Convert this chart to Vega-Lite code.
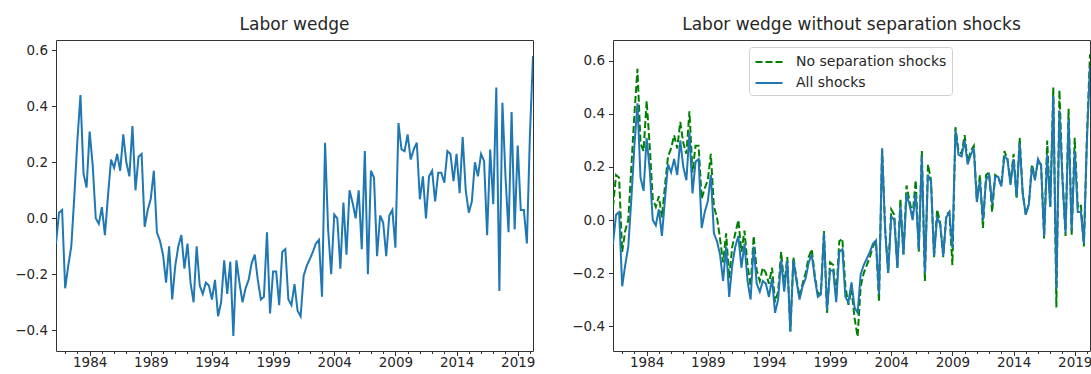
{
 "$schema": "https://vega.github.io/schema/vega-lite/v6.json",
 "padding": {"left": 14, "top": 15, "right": 0, "bottom": 0},
 "background": "white",
 "config": {
  "font": "DejaVu Sans",
  "view": {"stroke": "#333333", "strokeWidth": 1},
  "axis": {"grid": false, "domain": false, "labelFont": "DejaVu Sans", "labelFontSize": 13.5, "labelColor": "#262626", "tickColor": "#333333", "tickWidth": 1},
  "title": {"font": "DejaVu Sans", "fontSize": 17, "fontWeight": "normal", "color": "#262626", "offset": 6},
  "concat": {"spacing": 35}
 },
 "datasets": {
  "w": [
   {"t":1981.25,"a":-0.09,"n":0.05},{"t":1981.5,"a":0.02,"n":0.17},{"t":1981.75,"a":0.03,"n":0.16},{"t":1982,"a":-0.25,"n":-0.12},
   {"t":1982.25,"a":-0.17,"n":-0.04},{"t":1982.5,"a":-0.10,"n":0.00},{"t":1982.75,"a":0.08,"n":0.20},{"t":1983,"a":0.28,"n":0.40},
   {"t":1983.25,"a":0.44,"n":0.57},{"t":1983.5,"a":0.16,"n":0.29},{"t":1983.75,"a":0.11,"n":0.26},{"t":1984,"a":0.31,"n":0.45},
   {"t":1984.25,"a":0.19,"n":0.28},{"t":1984.5,"a":0.00,"n":0.08},{"t":1984.75,"a":-0.02,"n":0.05},{"t":1985,"a":0.04,"n":0.09},
   {"t":1985.25,"a":-0.06,"n":0.01},{"t":1985.5,"a":0.08,"n":0.13},{"t":1985.75,"a":0.21,"n":0.24},{"t":1986,"a":0.18,"n":0.27},
   {"t":1986.25,"a":0.23,"n":0.32},{"t":1986.5,"a":0.17,"n":0.27},{"t":1986.75,"a":0.30,"n":0.37},{"t":1987,"a":0.20,"n":0.29},
   {"t":1987.25,"a":0.15,"n":0.25},{"t":1987.5,"a":0.33,"n":0.41},{"t":1987.75,"a":0.10,"n":0.18},{"t":1988,"a":0.22,"n":0.28},
   {"t":1988.25,"a":0.23,"n":0.28},{"t":1988.5,"a":-0.03,"n":0.08},{"t":1988.75,"a":0.03,"n":0.12},{"t":1989,"a":0.07,"n":0.15},
   {"t":1989.25,"a":0.17,"n":0.25},{"t":1989.5,"a":-0.05,"n":0.05},{"t":1989.75,"a":-0.08,"n":0.01},{"t":1990,"a":-0.13,"n":-0.07},
   {"t":1990.25,"a":-0.23,"n":-0.16},{"t":1990.5,"a":-0.10,"n":-0.05},{"t":1990.75,"a":-0.29,"n":-0.22},{"t":1991,"a":-0.17,"n":-0.10},
   {"t":1991.25,"a":-0.10,"n":-0.05},{"t":1991.5,"a":-0.06,"n":0.00},{"t":1991.75,"a":-0.18,"n":-0.12},{"t":1992,"a":-0.09,"n":-0.04},
   {"t":1992.25,"a":-0.23,"n":-0.17},{"t":1992.5,"a":-0.30,"n":-0.25},{"t":1992.75,"a":-0.10,"n":-0.06},{"t":1993,"a":-0.24,"n":-0.19},
   {"t":1993.25,"a":-0.27,"n":-0.23},{"t":1993.5,"a":-0.23,"n":-0.18},{"t":1993.75,"a":-0.24,"n":-0.20},{"t":1994,"a":-0.29,"n":-0.24},
   {"t":1994.25,"a":-0.22,"n":-0.18},{"t":1994.5,"a":-0.35,"n":-0.31},{"t":1994.75,"a":-0.30,"n":-0.27},{"t":1995,"a":-0.15,"n":-0.12},
   {"t":1995.25,"a":-0.27,"n":-0.25},{"t":1995.5,"a":-0.155,"n":-0.14},{"t":1995.75,"a":-0.42,"n":-0.42},{"t":1996,"a":-0.15,"n":-0.14},
   {"t":1996.25,"a":-0.23,"n":-0.22},{"t":1996.5,"a":-0.30,"n":-0.29},{"t":1996.75,"a":-0.25,"n":-0.24},{"t":1997,"a":-0.22,"n":-0.20},
   {"t":1997.25,"a":-0.16,"n":-0.14},{"t":1997.5,"a":-0.13,"n":-0.11},{"t":1997.75,"a":-0.22,"n":-0.21},{"t":1998,"a":-0.29,"n":-0.28},
   {"t":1998.25,"a":-0.28,"n":-0.27},{"t":1998.5,"a":-0.05,"n":-0.04},{"t":1998.75,"a":-0.34,"n":-0.35},{"t":1999,"a":-0.19,"n":-0.16},
   {"t":1999.25,"a":-0.19,"n":-0.17},{"t":1999.5,"a":-0.31,"n":-0.29},{"t":1999.75,"a":-0.12,"n":-0.08},{"t":2000,"a":-0.11,"n":-0.07},
   {"t":2000.25,"a":-0.29,"n":-0.25},{"t":2000.5,"a":-0.31,"n":-0.32},{"t":2000.75,"a":-0.235,"n":-0.26},{"t":2001,"a":-0.33,"n":-0.37},
   {"t":2001.25,"a":-0.35,"n":-0.44},{"t":2001.5,"a":-0.205,"n":-0.25},{"t":2001.75,"a":-0.17,"n":-0.20},{"t":2002,"a":-0.146,"n":-0.17},
   {"t":2002.25,"a":-0.12,"n":-0.14},{"t":2002.5,"a":-0.09,"n":-0.10},{"t":2002.75,"a":-0.077,"n":-0.08},{"t":2003,"a":-0.28,"n":-0.31},
   {"t":2003.25,"a":0.27,"n":0.27},{"t":2003.5,"a":-0.04,"n":-0.03},{"t":2003.75,"a":-0.20,"n":-0.20},{"t":2004,"a":0.014,"n":0.04},
   {"t":2004.25,"a":0.0,"n":0.02},{"t":2004.5,"a":-0.18,"n":-0.18},{"t":2004.75,"a":0.056,"n":0.08},{"t":2005,"a":-0.13,"n":-0.13},
   {"t":2005.25,"a":0.10,"n":0.13},{"t":2005.5,"a":0.056,"n":0.07},{"t":2005.75,"a":0.0,"n":0.02},{"t":2006,"a":0.10,"n":0.15},
   {"t":2006.25,"a":-0.11,"n":-0.12},{"t":2006.5,"a":0.24,"n":0.26},{"t":2006.75,"a":-0.20,"n":-0.23},{"t":2007,"a":0.17,"n":0.21},
   {"t":2007.25,"a":0.145,"n":0.15},{"t":2007.5,"a":-0.135,"n":-0.14},{"t":2007.75,"a":0.01,"n":0.04},{"t":2008,"a":-0.015,"n":-0.01},
   {"t":2008.25,"a":-0.135,"n":-0.14},{"t":2008.5,"a":0.01,"n":0.02},{"t":2008.75,"a":0.03,"n":0.03},{"t":2009,"a":-0.105,"n":-0.17},
   {"t":2009.25,"a":0.34,"n":0.35},{"t":2009.5,"a":0.246,"n":0.26},{"t":2009.75,"a":0.24,"n":0.25},{"t":2010,"a":0.30,"n":0.32},
   {"t":2010.25,"a":0.21,"n":0.22},{"t":2010.5,"a":0.246,"n":0.26},{"t":2010.75,"a":0.27,"n":0.28},{"t":2011,"a":0.068,"n":0.07},
   {"t":2011.25,"a":0.15,"n":0.17},{"t":2011.5,"a":0.0,"n":-0.03},{"t":2011.75,"a":0.15,"n":0.17},{"t":2012,"a":0.17,"n":0.18},
   {"t":2012.25,"a":0.06,"n":0.03},{"t":2012.5,"a":0.163,"n":0.17},{"t":2012.75,"a":0.163,"n":0.16},{"t":2013,"a":0.127,"n":0.13},
   {"t":2013.25,"a":0.24,"n":0.26},{"t":2013.5,"a":0.23,"n":0.23},{"t":2013.75,"a":0.133,"n":0.14},{"t":2014,"a":0.23,"n":0.25},
   {"t":2014.25,"a":0.09,"n":0.08},{"t":2014.5,"a":0.29,"n":0.31},{"t":2014.75,"a":0.10,"n":0.10},{"t":2015,"a":0.02,"n":0.02},
   {"t":2015.25,"a":0.06,"n":0.06},{"t":2015.5,"a":0.20,"n":0.21},{"t":2015.75,"a":0.15,"n":0.16},{"t":2016,"a":0.23,"n":0.22},
   {"t":2016.25,"a":0.205,"n":0.21},{"t":2016.5,"a":-0.06,"n":-0.07},{"t":2016.75,"a":0.246,"n":0.30},{"t":2017,"a":0.05,"n":0.05},
   {"t":2017.25,"a":0.467,"n":0.50},{"t":2017.5,"a":-0.26,"n":-0.33},{"t":2017.75,"a":0.413,"n":0.49},{"t":2018,"a":0.15,"n":0.16},
   {"t":2018.25,"a":-0.05,"n":-0.06},{"t":2018.5,"a":0.38,"n":0.42},{"t":2018.75,"a":-0.04,"n":-0.06},{"t":2019,"a":0.26,"n":0.31},
   {"t":2019.25,"a":0.03,"n":0.05},{"t":2019.5,"a":0.03,"n":0.06},{"t":2019.75,"a":-0.09,"n":-0.10},{"t":2020,"a":0.30,"n":0.32},
   {"t":2020.25,"a":0.58,"n":0.625}
  ]
 },
 "hconcat": [
  {
   "width": 477, "height": 311,
   "title": "Labor wedge",
   "data": {"name": "w"},
   "mark": {"type": "line", "strokeWidth": 2, "color": "#1f77b4", "clip": true},
   "encoding": {
    "x": {"field": "t", "type": "quantitative",
     "scale": {"domain": [1981.25, 2020.25], "nice": false, "zero": false},
     "axis": {"title": null, "values": [1982,1983,1984,1985,1986,1987,1988,1989,1990,1991,1992,1993,1994,1995,1996,1997,1998,1999,2000,2001,2002,2003,2004,2005,2006,2007,2008,2009,2010,2011,2012,2013,2014,2015,2016,2017,2018,2019,2020],
      "labelExpr": "datum.value % 5 == 4 ? format(datum.value, 'd') : ''",
      "tickSize": {"condition": {"test": "datum.value % 5 == 4", "value": 4.5}, "value": 2.5},
      "labelPadding": 0, "labelFlush": false, "labelOverlap": false}},
    "y": {"field": "a", "type": "quantitative",
     "scale": {"domain": [-0.474, 0.637], "nice": false, "zero": false},
     "axis": {"title": null, "values": [-0.4, -0.2, 0, 0.2, 0.4, 0.6], "format": ".1f", "tickSize": 4.5, "labelPadding": 4}}
   }
  },
  {
   "width": 477, "height": 311,
   "title": "Labor wedge without separation shocks",
   "data": {"name": "w"},
   "encoding": {
    "x": {"field": "t", "type": "quantitative",
     "scale": {"domain": [1981.25, 2020.25], "nice": false, "zero": false},
     "axis": {"title": null, "values": [1982,1983,1984,1985,1986,1987,1988,1989,1990,1991,1992,1993,1994,1995,1996,1997,1998,1999,2000,2001,2002,2003,2004,2005,2006,2007,2008,2009,2010,2011,2012,2013,2014,2015,2016,2017,2018,2019,2020],
      "labelExpr": "datum.value % 5 == 4 ? format(datum.value, 'd') : ''",
      "tickSize": {"condition": {"test": "datum.value % 5 == 4", "value": 4.5}, "value": 2.5},
      "labelPadding": 0, "labelFlush": false, "labelOverlap": false}}
   },
   "layer": [
    {
     "mark": {"type": "line", "strokeWidth": 2, "clip": true},
     "encoding": {
      "y": {"field": "n", "type": "quantitative",
       "scale": {"domain": [-0.494, 0.679], "nice": false, "zero": false},
       "axis": {"title": null, "values": [-0.4, -0.2, 0, 0.2, 0.4, 0.6], "format": ".1f", "tickSize": 4.5, "labelPadding": 4}},
      "color": {"datum": "No separation shocks", "type": "nominal",
       "scale": {"domain": ["No separation shocks", "All shocks"], "range": ["#008000", "#1f77b4"]},
       "legend": {"title": null, "orient": "none", "legendX": 693, "legendY": 7, "symbolType": "M-1.5,0H1.5", "symbolSize": 324, "symbolStrokeWidth": 2, "symbolOffset": 5, "labelFontSize": 14, "labelFont": "DejaVu Sans", "labelColor": "#262626", "labelOffset": 17, "labelLimit": 300, "rowPadding": 4, "padding": 5, "strokeColor": "#d0d0d0", "fillColor": "rgba(255,255,255,0.8)", "cornerRadius": 3}},
      "strokeDash": {"datum": "No separation shocks", "type": "nominal",
       "scale": {"domain": ["No separation shocks", "All shocks"], "range": [[7, 3], [1, 0]]},
       "legend": {"title": null, "orient": "none", "legendX": 693, "legendY": 7, "symbolType": "M-1.5,0H1.5", "symbolSize": 324, "symbolStrokeWidth": 2, "symbolOffset": 5, "labelFontSize": 14, "labelFont": "DejaVu Sans", "labelColor": "#262626", "labelOffset": 17, "labelLimit": 300, "rowPadding": 4, "padding": 5, "strokeColor": "#d0d0d0", "fillColor": "rgba(255,255,255,0.8)", "cornerRadius": 3}}
     }
    },
    {
     "mark": {"type": "line", "strokeWidth": 2, "clip": true},
     "encoding": {
      "y": {"field": "a", "type": "quantitative"},
      "color": {"datum": "All shocks", "type": "nominal"},
      "strokeDash": {"datum": "All shocks", "type": "nominal"}
     }
    }
   ]
  }
 ]
}
